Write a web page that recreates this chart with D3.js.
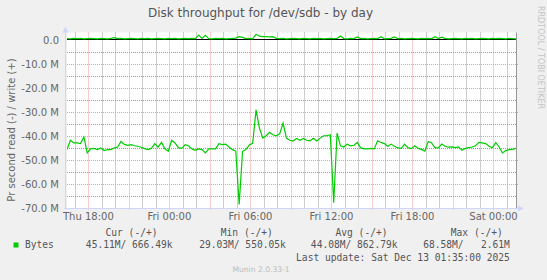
<!DOCTYPE html>
<html>
<head>
<meta charset="utf-8">
<script src="https://cdn.jsdelivr.net/npm/d3@7"></script>
<style>
  body { margin: 0; background: #f0f0f0; }
  svg { display: block; font-family: 'DejaVu Sans', sans-serif; }
  .mono { font-family: 'DejaVu Sans Mono', monospace; font-size: 9.6px; fill: #555; white-space: pre; }
</style>
</head>
<body>
<svg id="graph" width="547" height="280"></svg>
<script>
/*******************************************************************************************/
// Data (M bytes per second, one sample every 15 minutes)

var startTime = new Date(2025, 11, 11, 16, 25), stepMinutes = 15;

var readMB = [
  45.6,41.7,42.8,42.8,43.1,40.3,47.0,45.3,45.1,45.6,
  44.9,46.0,45.6,45.6,44.9,44.5,42.2,43.4,43.8,43.5,
  44.0,44.2,44.6,45.2,45.6,45.1,43.1,44.5,42.6,45.3,
  46.3,41.7,42.8,44.8,45.1,43.5,44.0,45.3,45.9,45.3,
  45.6,47.0,45.3,45.3,45.3,43.1,43.5,43.3,44.5,45.6,
  46.2,68.5,46.3,45.6,43.7,43.0,29.0,36.6,40.8,39.8,
  38.4,39.4,39.8,39.0,34.5,40.8,41.7,42.0,40.9,41.7,
  40.9,41.7,41.9,40.9,42.0,40.8,39.8,39.8,39.4,67.8,
  38.7,44.0,44.5,43.3,44.0,43.8,42.6,44.9,45.3,45.3,
  45.1,45.3,41.9,42.6,43.1,44.2,43.3,44.2,44.9,45.1,
  43.3,44.8,45.2,44.0,45.1,45.5,46.2,42.2,42.8,44.8,
  44.9,43.3,44.2,44.6,44.5,44.8,44.5,45.9,45.1,44.8,
  44.5,44.0,42.6,42.8,43.1,44.2,44.8,42.6,44.5,47.0,
  46.0,45.6,45.5,45.1
];

var writeMB = [
  0.8,0.7,0.9,0.8,0.9,0.7,0.8,0.9,0.8,0.7,
  0.9,0.8,0.7,0.9,1.2,0.8,0.9,0.7,0.8,0.9,
  0.8,0.7,0.9,0.8,0.9,0.7,0.8,0.9,0.8,0.7,
  0.9,0.8,0.9,0.7,0.8,0.9,0.8,0.9,0.8,2.3,
  0.9,2.2,0.8,0.7,0.9,0.8,0.9,0.7,0.8,0.9,
  1.0,1.6,1.3,0.8,0.9,0.7,2.6,1.8,1.6,1.6,
  1.5,1.6,0.9,0.8,0.9,0.7,0.8,0.9,0.8,0.7,
  0.9,0.8,0.7,0.9,0.8,0.9,0.7,0.8,0.9,0.8,
  0.9,1.9,0.8,0.7,0.9,0.8,1.5,0.8,0.9,0.7,
  0.8,0.9,0.8,1.6,0.7,0.8,0.9,1.5,0.8,0.9,
  0.7,0.8,0.9,0.8,0.7,0.9,0.8,0.9,0.8,1.6,
  0.8,1.4,0.9,0.7,0.8,0.9,0.8,0.7,0.9,0.8,
  0.9,0.7,0.8,0.9,0.8,0.7,0.9,0.8,0.9,0.8,
  0.7,0.9,0.8,0.7
];

var yMajorTicks = [0, -10, -20, -30, -40, -50, -60, -70];
var yMinorTicks = [-5, -15, -25, -35, -45, -55, -65];

var legendHeaders = ['Cur (-/+)', 'Min (-/+)', 'Avg (-/+)', 'Max (-/+)'];
var legendValues = ['45.11M/ 666.49k', '29.03M/ 550.05k', '44.08M/ 862.79k', '68.58M/   2.61M'];

/*******************************************************************************************/
// Scales

var plotLeft = 67, plotRight = 516, plotTop = 32.5, plotBottom = 208;
var times = readMB.map((d, i) => new Date(startTime.getTime() + i * stepMinutes * 60000));

var xScale = d3.scaleTime().domain([times[0], times[times.length - 1]]).range([plotLeft, plotRight]);
var yScale = d3.scaleLinear().domain([-70, 3.34]).range([plotBottom, plotTop]);
var crisp = v => Math.round(v) + 0.5;

var svg = d3.select('#graph');

svg.append('rect').attr('x', plotLeft).attr('y', plotTop).attr('width', plotRight - plotLeft).attr('height', plotBottom - plotTop).attr('fill', '#fff');

/*******************************************************************************************/
// Grid

var grid = svg.append('g');

grid.selectAll('.ymin').data(yMinorTicks).enter().append('line')
    .attr('x1', plotLeft).attr('x2', plotRight).attr('y1', d => crisp(yScale(d))).attr('y2', d => crisp(yScale(d)))
    .attr('stroke', '#9a9a9a').attr('stroke-dasharray', '1,1');

var hourTicks = d3.timeHour.every(1).range(xScale.domain()[0], xScale.domain()[1]).filter(d => d.getHours() % 3 != 0);
grid.selectAll('.xmin').data(hourTicks).enter().append('line')
    .attr('x1', d => crisp(xScale(d))).attr('x2', d => crisp(xScale(d))).attr('y1', plotTop).attr('y2', plotBottom)
    .attr('stroke', '#9a9a9a').attr('stroke-dasharray', '1,1');

grid.selectAll('.ymaj').data(yMajorTicks.filter(d => d != 0 && d != -70)).enter().append('line')
    .attr('x1', plotLeft - 2).attr('x2', plotRight + 2).attr('y1', d => crisp(yScale(d))).attr('y2', d => crisp(yScale(d)))
    .attr('stroke', '#f09a9a').attr('stroke-dasharray', '1,1');

var majorTimes = d3.timeHour.every(3).range(xScale.domain()[0], xScale.domain()[1]);
grid.selectAll('.xmaj').data(majorTimes).enter().append('line')
    .attr('x1', d => crisp(xScale(d))).attr('x2', d => crisp(xScale(d))).attr('y1', plotTop).attr('y2', plotBottom + 2)
    .attr('stroke', '#f09a9a').attr('stroke-dasharray', '1,1');

/*******************************************************************************************/
// Axes and labels

svg.append('line').attr('x1', 65.5).attr('x2', 65.5).attr('y1', 30).attr('y2', plotBottom + 1).attr('stroke', '#cfd6f8');
svg.append('path').attr('d', 'M62.5,32.5 L65.5,26.5 L68.5,32.5 Z').attr('fill', '#cfd6f8');
svg.append('line').attr('x1', 64).attr('x2', 520).attr('y1', plotBottom + 0.5).attr('y2', plotBottom + 0.5).attr('stroke', '#cfd6f8');
svg.append('path').attr('d', 'M518,205.5 L524,208.5 L518,211.5 Z').attr('fill', '#cfd6f8');
svg.append('line').attr('x1', plotRight + 0.5).attr('x2', plotRight + 0.5).attr('y1', plotTop).attr('y2', plotBottom).attr('stroke', '#999');

svg.selectAll('.ylab').data(yMajorTicks).enter().append('text')
    .attr('x', 59).attr('y', d => yScale(d)).attr('dy', '0.35em').attr('text-anchor', 'end')
    .attr('font-size', 10).attr('fill', '#666')
    .text(d => d == 0 ? '0.0' : d.toFixed(1) + ' M');

var labelTimes = d3.timeHour.every(6).range(xScale.domain()[0], xScale.domain()[1]);
svg.selectAll('.xlab').data(labelTimes).enter().append('text')
    .attr('x', d => xScale(d)).attr('y', 219.5).attr('text-anchor', 'middle')
    .attr('font-size', 10).attr('fill', '#666')
    .text(d3.timeFormat('%a %H:%M'));

svg.append('text').attr('transform', 'translate(15,130) rotate(-90)').attr('text-anchor', 'middle')
    .attr('font-size', 10).attr('fill', '#666').text('Pr second read (-) / write (+)');

svg.append('text').attr('x', 260.5).attr('y', 16.5).attr('text-anchor', 'middle')
    .attr('font-size', 12).attr('fill', '#555').text('Disk throughput for /dev/sdb - by day');

svg.append('text').attr('transform', 'translate(537.5,6) rotate(90)')
    .attr('font-size', 8).attr('fill', '#c4c4c4').text('RRDTOOL / TOBI OETIKER');

/*******************************************************************************************/
// Lines

svg.append('clipPath').attr('id', 'plotclip').append('rect')
    .attr('x', plotLeft).attr('y', plotTop).attr('width', plotRight - plotLeft).attr('height', plotBottom - plotTop);

svg.append('line').attr('x1', plotLeft).attr('x2', plotRight).attr('y1', crisp(yScale(0)) - 1).attr('y2', crisp(yScale(0)) - 1)
    .attr('stroke', '#000');

var lineGen = d3.line().x((d, i) => xScale(times[i])).y(d => yScale(d));

svg.append('path').attr('clip-path', 'url(#plotclip)').attr('d', lineGen(readMB.map(d => -d)))
    .attr('fill', 'none').attr('stroke', '#00cc00').attr('stroke-width', 1.2);
svg.append('path').attr('clip-path', 'url(#plotclip)').attr('d', lineGen(writeMB))
    .attr('fill', 'none').attr('stroke', '#00cc00').attr('stroke-width', 1.2);

/*******************************************************************************************/
// Legend

var headerEnds = [157.5, 272.8, 387.5, 502.8], valueEnds = [172.5, 285.8, 397.5, 509.8];

svg.selectAll('.lh').data(legendHeaders).enter().append('text').attr('class', 'mono')
    .attr('x', (d, i) => headerEnds[i]).attr('y', 235.5).attr('text-anchor', 'end').text(d => d);
svg.selectAll('.lv').data(legendValues).enter().append('text').attr('class', 'mono')
    .attr('x', (d, i) => valueEnds[i]).attr('y', 248).attr('text-anchor', 'end').text(d => d);

svg.append('rect').attr('x', 13.5).attr('y', 242.5).attr('width', 5).attr('height', 5).attr('fill', '#00cc00');
svg.append('text').attr('class', 'mono').attr('x', 25).attr('y', 248).text('Bytes');
svg.append('text').attr('class', 'mono').attr('x', 509.8).attr('y', 260.5).attr('text-anchor', 'end')
    .text('Last update: Sat Dec 13 01:35:00 2025');

svg.append('text').attr('x', 261).attr('y', 271.5).attr('text-anchor', 'middle')
    .attr('font-size', 7.6).attr('fill', '#bbb').text('Munin 2.0.33-1');
</script>
</body>
</html>
